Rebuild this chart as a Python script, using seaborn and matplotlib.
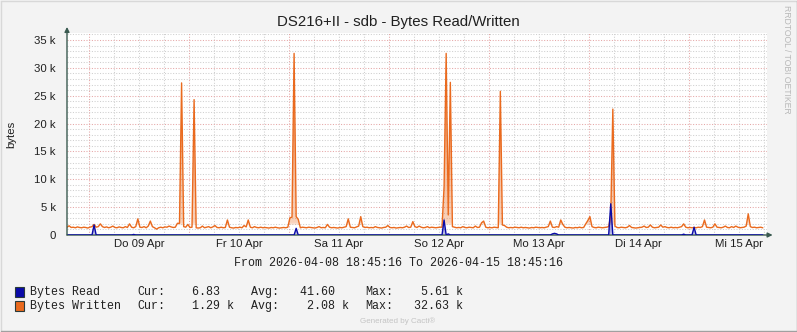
import numpy as np
import pandas as pd
import matplotlib
matplotlib.use("Agg")
import matplotlib.pyplot as plt
import matplotlib.dates as mdates
from matplotlib.patches import Polygon, Rectangle
from matplotlib.lines import Line2D
from matplotlib.colors import to_rgb
import seaborn as sns

# ---------------- data ----------------
title = "DS216+II - sdb - Bytes Read/Written"
start = pd.Timestamp("2026-04-08 18:45:16")
end = pd.Timestamp("2026-04-15 18:45:16")
step_minutes = 30

# Bytes Written, in kB, one value per 30 min (rows = 6 hours)
written_k = [
    1.4, 1.65, 1.35, 1.4, 1.3, 1.45, 1.35, 1.3, 1.4, 1.35, 1.25, 1.4,
    1.5, 1.9, 1.4, 1.5, 2.0, 1.5, 1.35, 1.45, 1.3, 1.4, 1.6, 1.35,
    1.3, 1.45, 1.35, 1.3, 1.5, 1.35, 2.0, 1.4, 1.3, 1.5, 2.9, 1.4,
    1.35, 1.5, 1.3, 1.6, 2.5, 1.5, 1.3, 1.05, 1.3, 1.4, 1.3, 1.45,
    1.4, 1.6, 1.45, 1.35, 1.4, 2.1, 2.1, 27.3, 1.5, 1.4, 1.9, 1.35,
    1.4, 24.3, 1.3, 1.25, 1.3, 1.6, 1.3, 1.4, 1.5, 1.3, 1.45, 1.7,
    1.35, 1.3, 1.4, 1.3, 1.35, 2.7, 1.4, 1.3, 1.25, 1.35, 1.3, 1.4,
    1.3, 1.7, 1.45, 2.7, 1.4, 1.3, 1.5, 1.35, 1.3, 1.4, 1.3, 1.35,
    1.3, 1.25, 1.35, 1.3, 1.4, 1.3, 1.25, 1.3, 1.35, 1.3, 1.4, 3.1,
    3.2, 32.6, 3.3, 2.8, 1.3, 1.4, 1.35, 1.3, 1.4, 1.35, 1.3, 1.25,
    1.35, 1.5, 1.3, 1.35, 1.3, 1.9, 1.4, 1.3, 1.35, 1.3, 1.25, 1.35,
    1.3, 1.4, 1.5, 2.9, 1.4, 1.35, 1.3, 1.45, 1.6, 3.3, 1.5, 1.35,
    1.4, 1.3, 1.35, 1.3, 1.5, 1.35, 1.3, 1.25, 1.35, 1.4, 1.7, 1.35,
    1.3, 1.35, 1.25, 1.3, 1.35, 1.3, 1.4, 1.6, 1.35, 1.4, 2.4, 1.5,
    1.35, 1.6, 1.4, 1.3, 1.35, 1.5, 1.3, 1.4, 1.35, 1.3, 1.35, 1.4,
    1.4, 8.7, 32.6, 3.6, 27.4, 1.5, 1.4, 1.3, 1.35, 1.3, 1.5, 1.35,
    1.3, 1.4, 1.35, 1.3, 1.6, 1.35, 1.4, 2.2, 2.5, 1.4, 1.3, 1.35,
    1.3, 1.4, 1.35, 1.3, 25.8, 1.8, 1.7, 1.4, 1.3, 1.35, 1.3, 1.4,
    1.35, 1.3, 1.4, 1.3, 1.35, 1.3, 1.25, 1.35, 1.3, 1.4, 1.35, 1.3,
    1.35, 1.3, 1.4, 1.5, 2.5, 1.4, 1.35, 1.5, 1.4, 2.7, 1.9, 1.4,
    1.3, 1.35, 1.3, 1.25, 1.35, 1.3, 1.4, 1.3, 1.35, 2.0, 2.6, 3.3,
    1.5, 1.35, 1.3, 1.4, 1.35, 1.3, 1.35, 1.4, 1.5, 3.5, 22.6, 1.6,
    1.35, 1.3, 1.4, 1.35, 1.3, 1.4, 1.7, 1.35, 1.3, 1.25, 1.3, 1.35,
    1.4, 1.6, 1.35, 1.4, 1.8, 1.4, 1.3, 1.35, 1.4, 1.8, 1.4, 1.5,
    1.35, 1.3, 1.4, 1.3, 1.35, 1.3, 1.4, 1.5, 2.0, 1.4, 1.3, 1.35,
    1.3, 1.35, 1.3, 1.4, 1.35, 1.5, 2.7, 1.4, 1.35, 1.3, 1.4, 2.0,
    1.4, 1.35, 1.3, 1.4, 1.6, 1.35, 1.3, 1.5, 1.35, 1.6, 1.4, 1.3,
    1.35, 1.4, 1.6, 3.8, 1.5, 1.35, 1.4, 1.3, 1.35, 1.4, 1.29,
]

# Bytes Read, in kB, one value per 30 min (rows = 6 hours)
read_k = [
    0, 0, 0, 0, 0, 0, 0, 0, 0, 0, 0, 0,
    0, 1.8, 0, 0, 0, 0, 0, 0, 0, 0, 0, 0,
    0, 0, 0, 0, 0, 0, 0, 0, 0.1, 0, 0, 0,
    0, 0, 0, 0, 0, 0, 0, 0, 0, 0, 0, 0,
    0, 0, 0, 0, 0, 0, 0, 0, 0, 0, 0, 0,
    0, 0, 0, 0, 0, 0, 0, 0, 0, 0, 0, 0,
    0, 0, 0, 0, 0, 0, 0, 0, 0, 0, 0, 0,
    0, 0, 0, 0, 0, 0, 0, 0, 0, 0, 0, 0,
    0, 0, 0, 0, 0, 0, 0, 0, 0, 0, 0, 0,
    0, 0, 1.2, 0, 0, 0, 0, 0, 0, 0, 0, 0,
    0, 0, 0, 0, 0, 0, 0, 0, 0, 0, 0, 0,
    0, 0, 0, 0, 0, 0, 0, 0, 0, 0, 0, 0,
    0, 0, 0, 0, 0, 0, 0, 0, 0, 0, 0, 0,
    0, 0, 0, 0, 0, 0, 0, 0, 0, 0, 0, 0,
    0, 0, 0, 0, 0, 0, 0, 0, 0, 0, 0, 0,
    0, 2.7, 0, 0.2, 0, 0, 0, 0, 0, 0, 0, 0,
    0, 0, 0, 0, 0, 0, 0, 0, 0, 0, 0, 0,
    0, 0, 0, 0, 0, 0, 0, 0, 0, 0, 0, 0,
    0, 0, 0, 0, 0, 0, 0, 0, 0, 0, 0, 0,
    0, 0, 0, 0, 0, 0.2, 0.3, 0.2, 0, 0, 0, 0,
    0, 0, 0, 0, 0, 0, 0, 0, 0, 0, 0, 0,
    0, 0, 0, 0, 0, 0, 0, 0, 0, 5.6, 0, 0,
    0, 0, 0, 0, 0, 0, 0, 0, 0, 0, 0, 0,
    0, 0, 0, 0, 0, 0, 0, 0, 0, 0, 0, 0,
    0, 0, 0, 0, 0, 0, 0, 0, 0.15, 0, 0, 0,
    0, 1.4, 0, 0, 0, 0, 0, 0, 0, 0, 0, 0,
    0, 0, 0, 0, 0, 0, 0, 0, 0, 0, 0, 0,
    0, 0, 0, 0, 0, 0, 0, 0, 0, 0, 0.00683,
]

series_names = ["Bytes Read", "Bytes Written"]
day_labels = ["Do 09 Apr", "Fr 10 Apr", "Sa 11 Apr", "So 12 Apr",
              "Mo 13 Apr", "Di 14 Apr", "Mi 15 Apr"]
y_ticks = [0, 5000, 10000, 15000, 20000, 25000, 30000, 35000]
y_tick_labels = ["0", "5 k", "10 k", "15 k", "20 k", "25 k", "30 k", "35 k"]
legend_cur = ["6.83", "1.29 k"]
legend_avg = ["41.60", "2.08 k"]
legend_max = ["5.61 k", "32.63 k"]

# ---------------- style ----------------
W, H, DPI = 797, 332, 100
BG = "#F3F3F3"
BLUE = "#0A0AA8"
ORANGE = "#EA6A1E"
AXC = "#3A5A50"
MINOR = "#CFCFCF"
MAJOR = "#E5A6A6"
GRID_LS = (0, (1.0, 1.6))

times = start + np.arange(len(written_k)) * pd.Timedelta(minutes=step_minutes)
df = pd.DataFrame({"time": times,
                   "Bytes Read": np.array(read_k) * 1000.0,
                   "Bytes Written": np.array(written_k) * 1000.0})
long = df.melt(id_vars="time", var_name="series", value_name="bytes")

sns.set_theme(style="white")
plt.rcParams["font.family"] = ["Liberation Sans", "DejaVu Sans"]

fig = plt.figure(figsize=(W / DPI, H / DPI), dpi=DPI, facecolor=BG)
ax = fig.add_axes([67 / W, (H - 235) / H, 700 / W, 202 / H])
ax.set_facecolor("white")

YMAX = 36260

sns.lineplot(data=long, x="time", y="bytes", hue="series",
             hue_order=["Bytes Written", "Bytes Read"],
             palette={"Bytes Read": BLUE, "Bytes Written": ORANGE},
             estimator=None, linewidth=1.0, legend=False, ax=ax, zorder=3)


def grad_fill(x, y, color, amax, lo, hi):
    xn = mdates.date2num(pd.to_datetime(x))
    verts = [(xn[0], 0)] + list(zip(xn, y)) + [(xn[-1], 0)]
    poly = Polygon(verts, closed=True, facecolor="none", edgecolor="none")
    ax.add_patch(poly)
    n = 400
    yy = np.linspace(0, YMAX, n)
    a = np.clip((yy - lo) / (hi - lo), 0, 1)
    alpha = np.where(yy < lo, 0, 0.3 + (amax - 0.3) * a)
    ramp = np.clip((yy - lo * 0.75) / (lo * 0.5 + 1), 0, 1)
    alpha = alpha * ramp
    img = np.zeros((n, 1, 4))
    img[..., :3] = to_rgb(color)
    img[:, 0, 3] = alpha
    im = ax.imshow(img, extent=[xn[0], xn[-1], 0, YMAX], origin="lower",
                   aspect="auto", interpolation="bilinear", zorder=2)
    im.set_clip_path(poly)


grad_fill(df["time"], df["Bytes Written"], ORANGE, 0.75, 1800, 34000)
grad_fill(df["time"], df["Bytes Read"], BLUE, 0.6, 150, 6000)

ax.set_xlim(start, end)
ax.set_ylim(0, YMAX)

# grid
ax.set_yticks(y_ticks)
ax.set_yticklabels(y_tick_labels)
ax.grid(False)
for yv in np.arange(1000, 36001, 1000):
    if yv % 5000:
        ax.axhline(yv, color=MINOR, lw=0.75, ls=GRID_LS, zorder=1)
for yv in y_ticks[1:]:
    ax.axhline(yv, color=MAJOR, lw=0.75, ls=GRID_LS, zorder=1.1)

six = pd.date_range(start.ceil("6h"), end, freq="6h")
for t in six:
    col = MAJOR if t.hour == 0 else MINOR
    ax.axvline(t, color=col, lw=0.75, ls=GRID_LS, zorder=1.1 if t.hour == 0 else 1)

noons = pd.date_range(start.normalize() + pd.Timedelta(days=1, hours=12), end, freq="D")
ax.set_xticks(noons)
ax.set_xticklabels(day_labels[:len(noons)])
ax.tick_params(axis="x", length=0, pad=3, labelsize=8.2, colors="#202020")
ax.tick_params(axis="y", which="major", length=0, pad=8, labelsize=8.2, colors="#202020")
ax.set_xlabel("")
ax.set_ylabel("")
for s in ax.spines.values():
    s.set_visible(False)

# axes with arrows
ax.annotate("", xy=(0, 1.03), xytext=(0, 0), xycoords="axes fraction",
            arrowprops=dict(arrowstyle="-|>", color=AXC, lw=1.0, mutation_scale=7,
                            shrinkA=0, shrinkB=0), annotation_clip=False, zorder=5)
ax.annotate("", xy=(1.008, 0), xytext=(0, 0), xycoords="axes fraction",
            arrowprops=dict(arrowstyle="-|>", color=AXC, lw=1.0, mutation_scale=7,
                            shrinkA=0, shrinkB=0), annotation_clip=False, zorder=2.5)


def ftext(x, y, s, **kw):
    fig.text(x / W, 1 - y / H, s, **kw)


ftext(398, 22, title, ha="center", va="center", fontsize=10.8, color="#202020")
ftext(11, 134, "bytes", ha="center", va="center", rotation=90, fontsize=8.2, color="#202020")
ftext(787, 5, "RRDTOOL / TOBI OETIKER", ha="center", va="top", rotation=270,
      fontsize=6.2, color="#B8B8B8")

mono = dict(family=["Liberation Mono", "DejaVu Sans Mono"], fontsize=8.35, color="#202020")
ftext(234, 266.5, "From %s To %s" % (start.strftime("%Y-%m-%d %H:%M:%S"),
                                     end.strftime("%Y-%m-%d %H:%M:%S")),
      ha="left", va="baseline", **mono)

colors = [BLUE, ORANGE]
rows_y = [291.5, 305.5]
for k in range(2):
    y = rows_y[k]
    yb = y + 3.8
    fig.patches.append(Rectangle((15 / W, 1 - (y + 5) / H), 9 / W, 10 / H,
                                 transform=fig.transFigure, facecolor=colors[k],
                                 edgecolor="#2A3A3A", lw=0.8))
    ftext(30, yb, series_names[k], ha="left", va="baseline", **mono)
    ftext(137, yb, "Cur:", ha="left", va="baseline", **mono)
    ftext(251, yb, "Avg:", ha="left", va="baseline", **mono)
    ftext(365, yb, "Max:", ha="left", va="baseline", **mono)
    ftext(234, yb, legend_cur[k] if legend_cur[k].endswith("k") else legend_cur[k] + "  ",
          ha="right", va="baseline", **mono)
    ftext(349, yb, legend_avg[k] if legend_avg[k].endswith("k") else legend_avg[k] + "  ",
          ha="right", va="baseline", **mono)
    ftext(463, yb, legend_max[k], ha="right", va="baseline", **mono)

ftext(398, 321, "Generated by Cacti\u00ae", ha="center", va="center",
      fontsize=5.8, color="#C4C4C4")

# frame
fig.lines.append(Line2D([0.5 / W, 796.5 / W], [1 - 0.5 / H, 1 - 0.5 / H],
                        transform=fig.transFigure, color="#D8D8D8", lw=1))
fig.lines.append(Line2D([0.5 / W, 0.5 / W], [1 - 0.5 / H, 1.5 / H],
                        transform=fig.transFigure, color="#D8D8D8", lw=1))
fig.lines.append(Line2D([0.5 / W, 796.5 / W], [1.5 / H, 1.5 / H],
                        transform=fig.transFigure, color="#A0A0A0", lw=1))
fig.lines.append(Line2D([796.5 / W, 796.5 / W], [1.5 / H, 1 - 0.5 / H],
                        transform=fig.transFigure, color="#A0A0A0", lw=1))

fig.savefig("out.png", dpi=DPI, facecolor=BG)
